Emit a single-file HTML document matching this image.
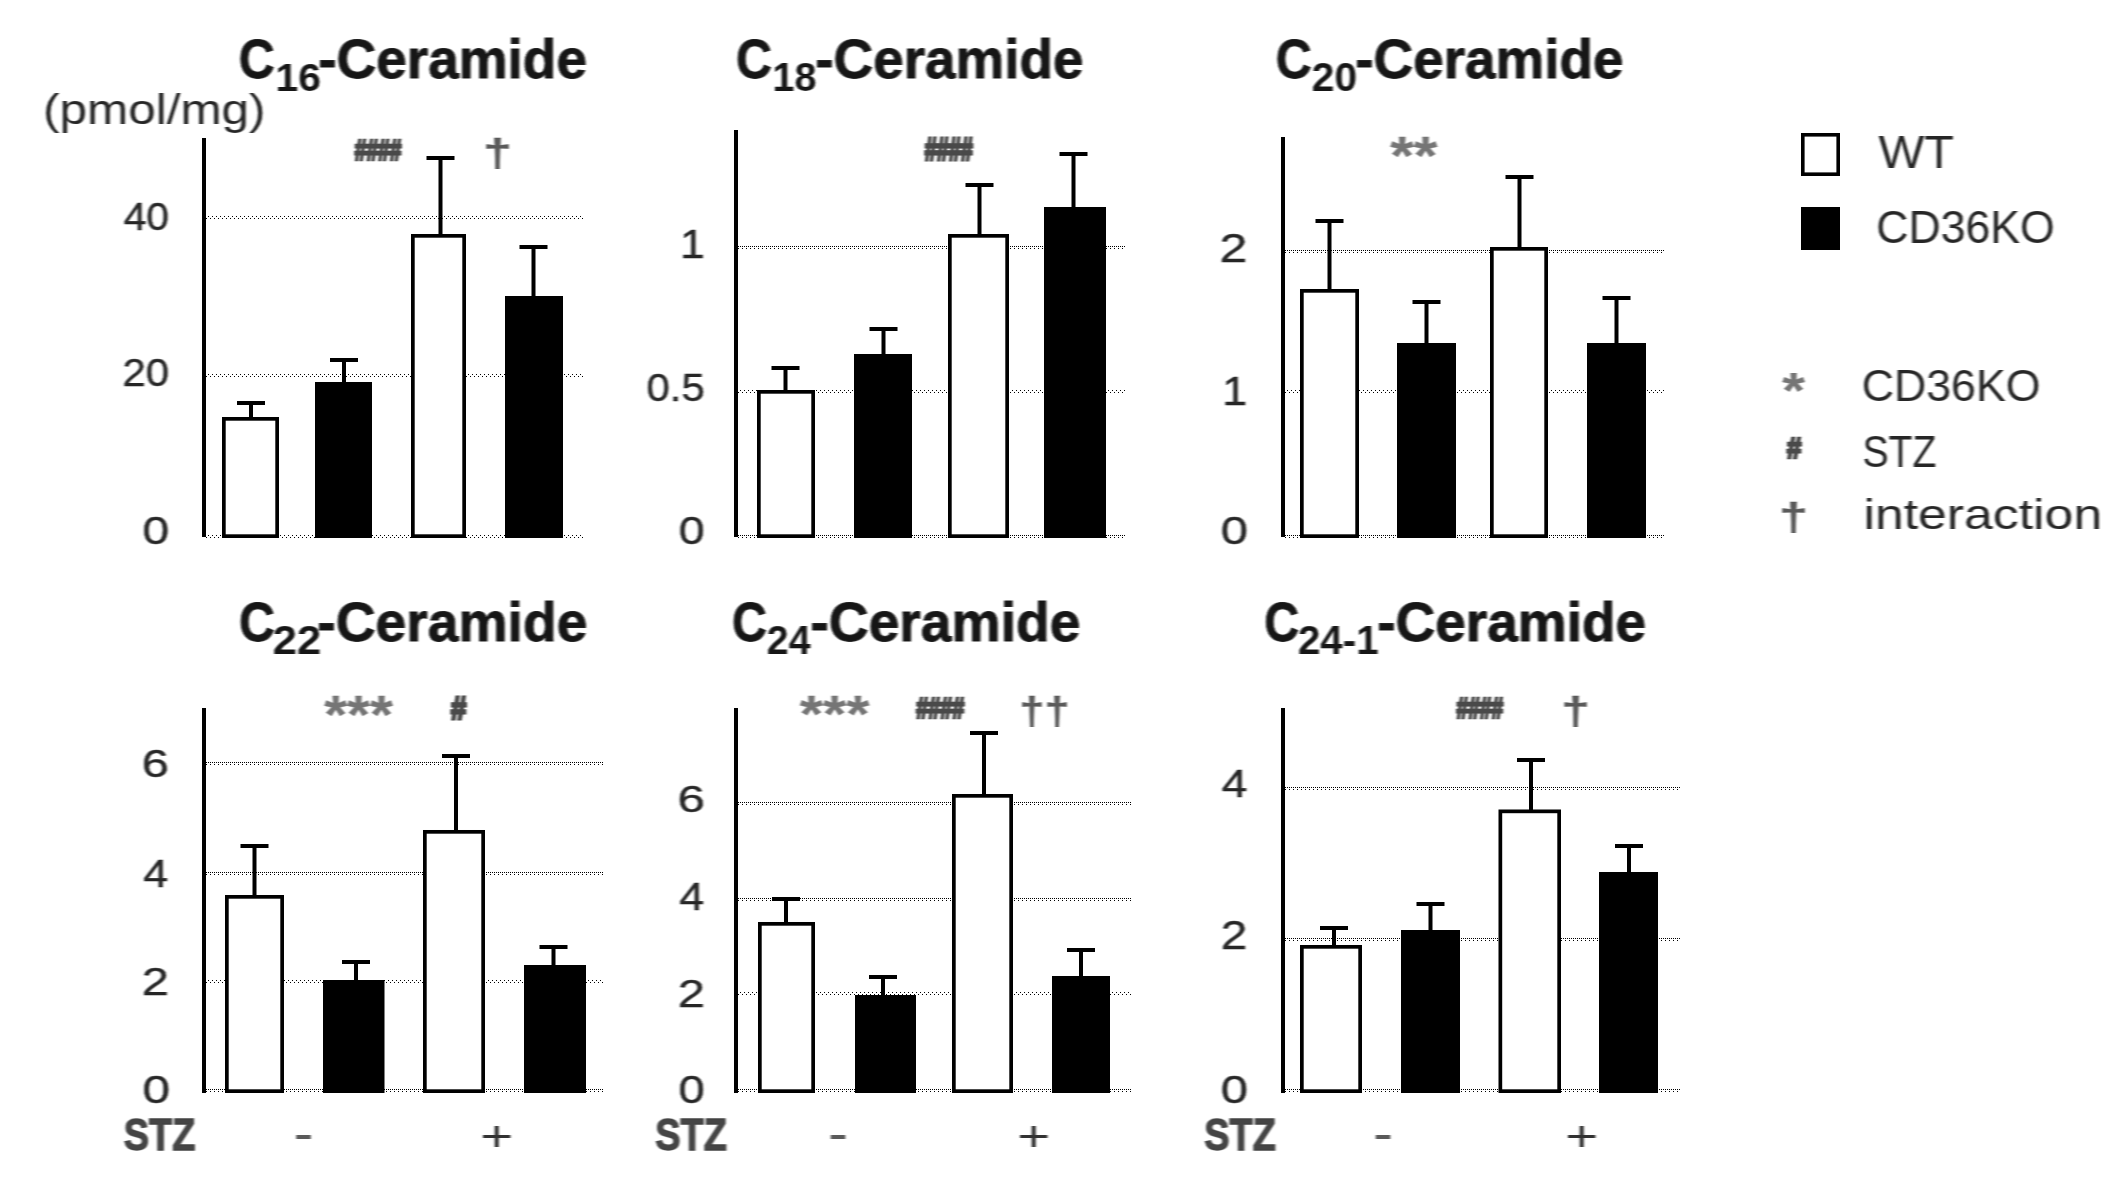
<!DOCTYPE html>
<html lang="en"><head><meta charset="utf-8"><title>Ceramide levels</title>
<style>html,body{margin:0;padding:0;background:#fff}svg{display:block}</style></head>
<body>
<svg width="2125" height="1190" viewBox="0 0 2125 1190" font-family='"Liberation Sans", sans-serif' font-size="100">
<style>.g,.gd{stroke:#000;stroke-width:1;stroke-dasharray:1 3;shape-rendering:crispEdges}.gd{stroke-dasharray:1 1}</style>
<defs><filter id="hb" x="0" y="0" width="100%" height="100%" filterUnits="userSpaceOnUse"><feGaussianBlur stdDeviation="1.1 0.35"/></filter></defs>
<rect width="2125" height="1190" fill="#fff"/>
<line x1="204" x2="583" y1="216.5" y2="216.5" class="g"/>
<line x1="206" x2="583" y1="218.5" y2="218.5" class="g"/>
<line x1="204" x2="583" y1="374.5" y2="374.5" class="g"/>
<line x1="206" x2="583" y1="376.5" y2="376.5" class="g"/>
<line x1="204" x2="583" y1="535.5" y2="535.5" class="g"/>
<line x1="206" x2="583" y1="537.5" y2="537.5" class="g"/>
<rect x="202" y="138" width="4" height="399" fill="#000"/>
<rect x="249" y="403" width="4" height="16" fill="#000"/>
<rect x="237" y="401" width="28" height="4" fill="#000"/>
<rect x="342" y="360" width="4" height="24" fill="#000"/>
<rect x="330" y="358" width="28" height="4" fill="#000"/>
<rect x="438.5" y="158" width="4" height="78" fill="#000"/>
<rect x="426.5" y="156" width="28" height="4" fill="#000"/>
<rect x="531.5" y="247" width="4" height="51" fill="#000"/>
<rect x="519.5" y="245" width="28" height="4" fill="#000"/>
<rect x="223.85" y="418.85" width="53.3" height="117.3" fill="#fff" stroke="#000" stroke-width="3.7"/>
<rect x="315" y="382" width="57" height="156" fill="#000"/>
<rect x="412.85" y="235.85" width="51.3" height="300.3" fill="#fff" stroke="#000" stroke-width="3.7"/>
<rect x="505" y="296" width="58" height="242" fill="#000"/>
<line x1="736" x2="1125" y1="246.5" y2="246.5" class="gd"/>
<line x1="738" x2="1125" y1="248.5" y2="248.5" class="g"/>
<line x1="736" x2="1125" y1="390.5" y2="390.5" class="g"/>
<line x1="738" x2="1125" y1="392.5" y2="392.5" class="g"/>
<line x1="736" x2="1125" y1="535.5" y2="535.5" class="gd"/>
<line x1="738" x2="1125" y1="537.5" y2="537.5" class="g"/>
<rect x="734" y="130" width="4" height="407" fill="#000"/>
<rect x="783.5" y="368" width="4" height="24" fill="#000"/>
<rect x="771.5" y="366" width="28" height="4" fill="#000"/>
<rect x="881.5" y="329" width="4" height="27" fill="#000"/>
<rect x="869.5" y="327" width="28" height="4" fill="#000"/>
<rect x="977.5" y="185" width="4" height="51" fill="#000"/>
<rect x="965.5" y="183" width="28" height="4" fill="#000"/>
<rect x="1071.5" y="154" width="4" height="55" fill="#000"/>
<rect x="1059.5" y="152" width="28" height="4" fill="#000"/>
<rect x="758.85" y="391.85" width="54.3" height="144.3" fill="#fff" stroke="#000" stroke-width="3.7"/>
<rect x="854" y="354" width="58" height="184" fill="#000"/>
<rect x="949.85" y="235.85" width="57.3" height="300.3" fill="#fff" stroke="#000" stroke-width="3.7"/>
<rect x="1044" y="207" width="62" height="331" fill="#000"/>
<line x1="1283" x2="1665" y1="250.5" y2="250.5" class="gd"/>
<line x1="1285" x2="1665" y1="252.5" y2="252.5" class="g"/>
<line x1="1283" x2="1665" y1="390.5" y2="390.5" class="g"/>
<line x1="1285" x2="1665" y1="392.5" y2="392.5" class="g"/>
<line x1="1283" x2="1665" y1="535.5" y2="535.5" class="gd"/>
<line x1="1285" x2="1665" y1="537.5" y2="537.5" class="g"/>
<rect x="1281" y="137" width="4" height="400" fill="#000"/>
<rect x="1327.5" y="221" width="4" height="70" fill="#000"/>
<rect x="1315.5" y="219" width="28" height="4" fill="#000"/>
<rect x="1424.5" y="302" width="4" height="43" fill="#000"/>
<rect x="1412.5" y="300" width="28" height="4" fill="#000"/>
<rect x="1517.5" y="177" width="4" height="72" fill="#000"/>
<rect x="1505.5" y="175" width="28" height="4" fill="#000"/>
<rect x="1614.5" y="298" width="4" height="47" fill="#000"/>
<rect x="1602.5" y="296" width="28" height="4" fill="#000"/>
<rect x="1301.85" y="290.85" width="55.3" height="245.3" fill="#fff" stroke="#000" stroke-width="3.7"/>
<rect x="1397" y="343" width="59" height="195" fill="#000"/>
<rect x="1491.85" y="248.85" width="54.3" height="287.3" fill="#fff" stroke="#000" stroke-width="3.7"/>
<rect x="1587" y="343" width="59" height="195" fill="#000"/>
<line x1="204" x2="604" y1="762.5" y2="762.5" class="gd"/>
<line x1="206" x2="604" y1="764.5" y2="764.5" class="g"/>
<line x1="204" x2="604" y1="872.5" y2="872.5" class="gd"/>
<line x1="206" x2="604" y1="874.5" y2="874.5" class="g"/>
<line x1="204" x2="604" y1="980.5" y2="980.5" class="g"/>
<line x1="206" x2="604" y1="982.5" y2="982.5" class="g"/>
<line x1="204" x2="604" y1="1089.5" y2="1089.5" class="gd"/>
<line x1="206" x2="604" y1="1091.5" y2="1091.5" class="g"/>
<rect x="202" y="708" width="4" height="385" fill="#000"/>
<rect x="252.5" y="846" width="4" height="51" fill="#000"/>
<rect x="240.5" y="844" width="28" height="4" fill="#000"/>
<rect x="354" y="962" width="4" height="20" fill="#000"/>
<rect x="342" y="960" width="28" height="4" fill="#000"/>
<rect x="454" y="756" width="4" height="76" fill="#000"/>
<rect x="442" y="754" width="28" height="4" fill="#000"/>
<rect x="551.5" y="947" width="4" height="20" fill="#000"/>
<rect x="539.5" y="945" width="28" height="4" fill="#000"/>
<rect x="226.85" y="896.85" width="55.3" height="194.3" fill="#fff" stroke="#000" stroke-width="3.7"/>
<rect x="323" y="980" width="61.5" height="113" fill="#000"/>
<rect x="424.85" y="831.85" width="58.3" height="259.3" fill="#fff" stroke="#000" stroke-width="3.7"/>
<rect x="524" y="965" width="62" height="128" fill="#000"/>
<line x1="736" x2="1132" y1="802.5" y2="802.5" class="gd"/>
<line x1="738" x2="1132" y1="804.5" y2="804.5" class="g"/>
<line x1="736" x2="1132" y1="898.5" y2="898.5" class="gd"/>
<line x1="738" x2="1132" y1="900.5" y2="900.5" class="g"/>
<line x1="736" x2="1132" y1="992.5" y2="992.5" class="g"/>
<line x1="738" x2="1132" y1="994.5" y2="994.5" class="g"/>
<line x1="736" x2="1132" y1="1089.5" y2="1089.5" class="gd"/>
<line x1="738" x2="1132" y1="1091.5" y2="1091.5" class="g"/>
<rect x="734" y="708" width="4" height="385" fill="#000"/>
<rect x="784" y="899" width="4" height="25" fill="#000"/>
<rect x="772" y="897" width="28" height="4" fill="#000"/>
<rect x="881" y="977" width="4" height="20" fill="#000"/>
<rect x="869" y="975" width="28" height="4" fill="#000"/>
<rect x="982" y="733" width="4" height="63" fill="#000"/>
<rect x="970" y="731" width="28" height="4" fill="#000"/>
<rect x="1079" y="950" width="4" height="28" fill="#000"/>
<rect x="1067" y="948" width="28" height="4" fill="#000"/>
<rect x="759.85" y="923.85" width="53.3" height="167.3" fill="#fff" stroke="#000" stroke-width="3.7"/>
<rect x="855" y="995" width="61" height="98" fill="#000"/>
<rect x="953.85" y="795.85" width="57.3" height="295.3" fill="#fff" stroke="#000" stroke-width="3.7"/>
<rect x="1052" y="976" width="58" height="117" fill="#000"/>
<line x1="1283" x2="1680" y1="787.5" y2="787.5" class="gd"/>
<line x1="1285" x2="1680" y1="789.5" y2="789.5" class="g"/>
<line x1="1283" x2="1680" y1="938.5" y2="938.5" class="gd"/>
<line x1="1285" x2="1680" y1="940.5" y2="940.5" class="g"/>
<line x1="1283" x2="1680" y1="1089.5" y2="1089.5" class="gd"/>
<line x1="1285" x2="1680" y1="1091.5" y2="1091.5" class="g"/>
<rect x="1281" y="708" width="4" height="385" fill="#000"/>
<rect x="1332" y="928" width="4" height="20" fill="#000"/>
<rect x="1320" y="926" width="28" height="4" fill="#000"/>
<rect x="1428.5" y="904" width="4" height="28" fill="#000"/>
<rect x="1416.5" y="902" width="28" height="4" fill="#000"/>
<rect x="1529" y="760" width="4" height="52" fill="#000"/>
<rect x="1517" y="758" width="28" height="4" fill="#000"/>
<rect x="1627" y="846" width="4" height="28" fill="#000"/>
<rect x="1615" y="844" width="28" height="4" fill="#000"/>
<rect x="1301.85" y="946.85" width="58.3" height="144.3" fill="#fff" stroke="#000" stroke-width="3.7"/>
<rect x="1401" y="930" width="59" height="163" fill="#000"/>
<rect x="1500.35" y="811.35" width="58.8" height="279.8" fill="#fff" stroke="#000" stroke-width="3.7"/>
<rect x="1599" y="872" width="59" height="221" fill="#000"/>
<rect x="1802.8" y="134.8" width="35.4" height="39.4" fill="#fff" stroke="#000" stroke-width="3.6"/>
<rect x="1801" y="207" width="39" height="43" fill="#000"/>
<g filter="url(#hb)">
<text transform="translate(43.03 124.45) scale(0.4946 0.4309)" fill="#262626">(pmol/mg)</text>
<text transform="translate(123.69 230.40) scale(0.4080 0.3972)" fill="#262626" stroke="#262626" stroke-width="1">40</text>
<text transform="translate(122.41 385.91) scale(0.4198 0.3958)" fill="#262626" stroke="#262626" stroke-width="1">20</text>
<text transform="translate(142.60 544.42) scale(0.4800 0.3889)" fill="#262626" stroke="#262626" stroke-width="1">0</text>
<text transform="translate(354.73 159.64) scale(0.2097 0.3013)" fill="#484848" font-weight="bold" stroke="#484848" stroke-width="9">####</text>
<text transform="translate(483.12 166.04) scale(0.5227 0.3951)" fill="#5a5a5a" font-weight="bold" stroke="#5a5a5a" stroke-width="1">†</text>
<text transform="translate(680.00 258.10) scale(0.4467 0.4086)" fill="#262626" stroke="#262626" stroke-width="1">1</text>
<text transform="translate(646.55 400.92) scale(0.4190 0.3847)" fill="#262626" stroke="#262626" stroke-width="1">0.5</text>
<text transform="translate(678.84 544.42) scale(0.4660 0.3889)" fill="#262626" stroke="#262626" stroke-width="1">0</text>
<text transform="translate(924.76 159.62) scale(0.2163 0.3077)" fill="#484848" font-weight="bold" stroke="#484848" stroke-width="9">####</text>
<text transform="translate(1219.54 261.50) scale(0.5021 0.3986)" fill="#262626" stroke="#262626" stroke-width="1">2</text>
<text transform="translate(1222.28 404.70) scale(0.4489 0.3971)" fill="#262626" stroke="#262626" stroke-width="1">1</text>
<text transform="translate(1220.78 544.42) scale(0.4900 0.3889)" fill="#262626" stroke="#262626" stroke-width="1">0</text>
<text transform="translate(1390.15 173.69) scale(0.6070 0.5299)" fill="#747474" font-weight="bold" stroke="#747474" stroke-width="0.5">**</text>
<text transform="translate(141.71 777.41) scale(0.4875 0.3931)" fill="#262626" stroke="#262626" stroke-width="1">6</text>
<text transform="translate(143.22 887.00) scale(0.4500 0.3972)" fill="#262626" stroke="#262626" stroke-width="1">4</text>
<text transform="translate(141.80 994.81) scale(0.4894 0.3873)" fill="#262626" stroke="#262626" stroke-width="1">2</text>
<text transform="translate(142.56 1103.42) scale(0.4960 0.3889)" fill="#262626" stroke="#262626" stroke-width="1">0</text>
<text transform="translate(324.15 733.01) scale(0.5881 0.5403)" fill="#747474" font-weight="bold" stroke="#747474" stroke-width="0.5">***</text>
<text transform="translate(450.96 718.59) scale(0.2742 0.3128)" fill="#484848" font-weight="bold" stroke="#484848" stroke-width="9">#</text>
<text transform="translate(123.81 1150.40) scale(0.3792 0.4419)" fill="#444444" font-weight="bold" stroke="#444444" stroke-width="3">STZ</text>
<text transform="translate(293.98 1145.67) scale(0.5741 0.3333)" fill="#5a5a5a" font-weight="bold">-</text>
<text transform="translate(480.34 1151.40) scale(0.5640 0.4220)" fill="#303030">+</text>
<text transform="translate(677.49 812.44) scale(0.4917 0.3750)" fill="#262626" stroke="#262626" stroke-width="1">6</text>
<text transform="translate(679.23 909.80) scale(0.4500 0.3972)" fill="#262626" stroke="#262626" stroke-width="1">4</text>
<text transform="translate(677.80 1006.81) scale(0.4894 0.3873)" fill="#262626" stroke="#262626" stroke-width="1">2</text>
<text transform="translate(678.52 1103.42) scale(0.4720 0.3889)" fill="#262626" stroke="#262626" stroke-width="1">0</text>
<text transform="translate(799.75 732.13) scale(0.5966 0.5247)" fill="#747474" font-weight="bold" stroke="#747474" stroke-width="0.5">***</text>
<text transform="translate(916.26 718.13) scale(0.2163 0.3038)" fill="#484848" font-weight="bold" stroke="#484848" stroke-width="9">####</text>
<text transform="translate(1019.20 724.11) scale(0.4547 0.3852)" fill="#5a5a5a" font-weight="bold" stroke="#5a5a5a" stroke-width="1">††</text>
<text transform="translate(655.31 1150.40) scale(0.3792 0.4419)" fill="#444444" font-weight="bold" stroke="#444444" stroke-width="3">STZ</text>
<text transform="translate(828.48 1145.67) scale(0.5741 0.3333)" fill="#5a5a5a" font-weight="bold">-</text>
<text transform="translate(1017.34 1151.40) scale(0.5640 0.4220)" fill="#303030">+</text>
<text transform="translate(1221.81 796.90) scale(0.4615 0.3901)" fill="#262626" stroke="#262626" stroke-width="1">4</text>
<text transform="translate(1220.85 949.10) scale(0.4787 0.3986)" fill="#262626" stroke="#262626" stroke-width="1">2</text>
<text transform="translate(1220.78 1103.42) scale(0.4900 0.3889)" fill="#262626" stroke="#262626" stroke-width="1">0</text>
<text transform="translate(1456.53 717.93) scale(0.2097 0.3038)" fill="#484848" font-weight="bold" stroke="#484848" stroke-width="9">####</text>
<text transform="translate(1561.15 724.27) scale(0.5182 0.3901)" fill="#5a5a5a" font-weight="bold" stroke="#5a5a5a" stroke-width="1">†</text>
<text transform="translate(1204.31 1150.40) scale(0.3792 0.4419)" fill="#444444" font-weight="bold" stroke="#444444" stroke-width="3">STZ</text>
<text transform="translate(1373.48 1145.67) scale(0.5741 0.3333)" fill="#5a5a5a" font-weight="bold">-</text>
<text transform="translate(1565.34 1151.40) scale(0.5640 0.4220)" fill="#303030">+</text>
<text transform="translate(1878.50 168.35) scale(0.4857 0.4543)" fill="#262626">WT</text>
<text transform="translate(1876.27 243.04) scale(0.4463 0.4648)" fill="#262626">CD36KO</text>
<text transform="translate(1782.15 408.18) scale(0.5823 0.4935)" fill="#747474" font-weight="bold" stroke="#747474" stroke-width="0.5">*</text>
<text transform="translate(1861.77 401.35) scale(0.4468 0.4507)" fill="#262626">CD36KO</text>
<text transform="translate(1786.90 457.67) scale(0.2581 0.2949)" fill="#484848" font-weight="bold" stroke="#484848" stroke-width="9">#</text>
<text transform="translate(1862.43 467.26) scale(0.3922 0.4403)" fill="#262626">STZ</text>
<text transform="translate(1779.12 530.13) scale(0.5227 0.3827)" fill="#5a5a5a" font-weight="bold" stroke="#5a5a5a" stroke-width="1">†</text>
<text transform="translate(1863.39 529.37) scale(0.5176 0.4324)" fill="#262626">interaction</text>
<text transform="scale(0.5495 0.5563)" fill="#141414" font-weight="bold"><tspan x="434.70" y="140.82" font-size="99.18" textLength="65.22" lengthAdjust="spacingAndGlyphs" stroke="#141414" stroke-width="1.5">C</tspan><tspan x="501.41" y="162.87" font-size="71.40" textLength="82.66" lengthAdjust="spacingAndGlyphs">16</tspan><tspan x="579.14" y="140.80" font-size="100.00" textLength="489.06" lengthAdjust="spacingAndGlyphs" stroke="#141414" stroke-width="1.5">-Ceramide</tspan></text>
<text transform="scale(0.5481 0.5563)" fill="#141414" font-weight="bold"><tspan x="1342.61" y="140.82" font-size="99.18" textLength="65.39" lengthAdjust="spacingAndGlyphs" stroke="#141414" stroke-width="1.5">C</tspan><tspan x="1409.64" y="162.87" font-size="71.40" textLength="80.29" lengthAdjust="spacingAndGlyphs">18</tspan><tspan x="1487.62" y="140.80" font-size="100.00" textLength="489.06" lengthAdjust="spacingAndGlyphs" stroke="#141414" stroke-width="1.5">-Ceramide</tspan></text>
<text transform="scale(0.5481 0.5563)" fill="#141414" font-weight="bold"><tspan x="2327.83" y="140.82" font-size="99.18" textLength="65.39" lengthAdjust="spacingAndGlyphs" stroke="#141414" stroke-width="1.5">C</tspan><tspan x="2393.32" y="162.87" font-size="71.40" textLength="82.64" lengthAdjust="spacingAndGlyphs">20</tspan><tspan x="2472.84" y="140.80" font-size="100.00" textLength="489.06" lengthAdjust="spacingAndGlyphs" stroke="#141414" stroke-width="1.5">-Ceramide</tspan></text>
<text transform="scale(0.5522 0.5576)" fill="#141414" font-weight="bold"><tspan x="432.59" y="1150.13" font-size="99.19" textLength="64.90" lengthAdjust="spacingAndGlyphs" stroke="#141414" stroke-width="1.5">C</tspan><tspan x="493.81" y="1172.85" font-size="72.50" textLength="87.80" lengthAdjust="spacingAndGlyphs">22</tspan><tspan x="574.69" y="1150.12" font-size="100.00" textLength="489.06" lengthAdjust="spacingAndGlyphs" stroke="#141414" stroke-width="1.5">-Ceramide</tspan></text>
<text transform="scale(0.5520 0.5576)" fill="#141414" font-weight="bold"><tspan x="1326.10" y="1150.13" font-size="99.19" textLength="63.18" lengthAdjust="spacingAndGlyphs" stroke="#141414" stroke-width="1.5">C</tspan><tspan x="1389.12" y="1172.85" font-size="72.50" textLength="79.21" lengthAdjust="spacingAndGlyphs">24</tspan><tspan x="1468.17" y="1150.12" font-size="100.00" textLength="489.06" lengthAdjust="spacingAndGlyphs" stroke="#141414" stroke-width="1.5">-Ceramide</tspan></text>
<text transform="scale(0.5500 0.5576)" fill="#141414" font-weight="bold"><tspan x="2298.60" y="1150.13" font-size="99.19" textLength="63.42" lengthAdjust="spacingAndGlyphs" stroke="#141414" stroke-width="1.5">C</tspan><tspan x="2359.81" y="1172.85" font-size="72.50" textLength="146.67" lengthAdjust="spacingAndGlyphs">24-1</tspan><tspan x="2503.95" y="1150.12" font-size="100.00" textLength="489.06" lengthAdjust="spacingAndGlyphs" stroke="#141414" stroke-width="1.5">-Ceramide</tspan></text>
</g>
</svg>
</body></html>
